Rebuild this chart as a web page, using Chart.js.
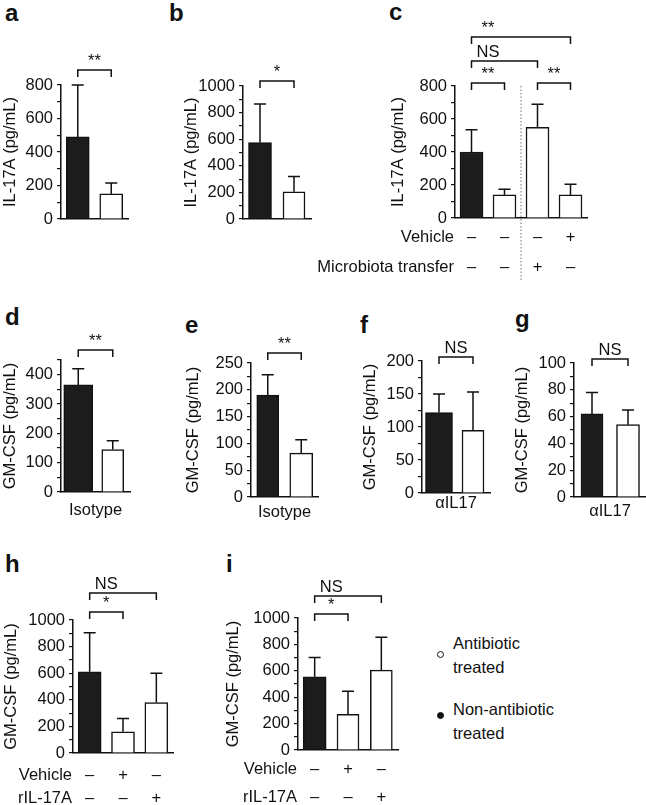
<!DOCTYPE html>
<html>
<head>
<meta charset="utf-8">
<script src="https://cdn.jsdelivr.net/npm/chart.js@4.4.1/dist/chart.umd.min.js"></script>
<style>
    body {
        margin: 0;
        width: 646px;
        height: 805px;
        position: relative;
        overflow: hidden;
        background: #fff;
        font-family: "Liberation Sans", Arial, sans-serif;
        color: #111;
    }
    canvas { position: absolute; }
    .letter {
        position: absolute;
        font-size: 24px;
        font-weight: bold;
        line-height: 1;
    }
    .legend-text {
        position: absolute;
        left: 453px;
        font-size: 16.5px;
        line-height: 24px;
    }
    .dot {
        position: absolute;
        width: 5px;
        height: 5px;
        border: 1.5px solid #111;
        border-radius: 50%;
    }
</style>
</head>
<body>
<div class="letter" style="left:5px;top:1px">a</div>
<div class="letter" style="left:169px;top:1px">b</div>
<div class="letter" style="left:389px;top:0px">c</div>
<div class="letter" style="left:5px;top:305px">d</div>
<div class="letter" style="left:185px;top:313px">e</div>
<div class="letter" style="left:360px;top:313px">f</div>
<div class="letter" style="left:515px;top:307px">g</div>
<div class="letter" style="left:5px;top:552px">h</div>
<div class="letter" style="left:226px;top:552px">i</div>

<div class="dot" style="left:437px;top:651px;background:#fff"></div>
<div class="legend-text" style="top:631px">Antibiotic<br>treated</div>
<div class="dot" style="left:437px;top:712px;background:#111"></div>
<div class="legend-text" style="top:697px">Non-antibiotic<br>treated</div>

<script>
const NON = 'Non-antibiotic treated';
const ABX = 'Antibiotic treated';

// a, b: IL-17A
const aGroups = [NON, ABX];
const aMeans = [490, 150];
const aErrors = [310, 65];
const aTicks = [0, 200, 400, 600, 800];
const aSig = [[0, 1, '**']];

const bGroups = [NON, ABX];
const bMeans = [575, 205];
const bErrors = [290, 115];
const bTicks = [0, 200, 400, 600, 800, 1000];
const bSig = [[0, 1, '*']];

// c: IL-17A with microbiota transfer
const cGroups = [NON, ABX, ABX, ABX];
const cMeans = [400, 140, 550, 140];
const cErrors = [135, 35, 140, 65];
const cTicks = [0, 200, 400, 600, 800];
const cVehicle = ['–', '–', '–', '+'];
const cTransfer = ['–', '–', '+', '–'];
const cSig = [[0, 1, '**'], [2, 3, '**'], [0, 2, 'NS'], [0, 3, '**']];

// d-g: GM-CSF
const dGroups = [NON, ABX];
const dMeans = [365, 145];
const dErrors = [55, 30];
const dTicks = [0, 100, 200, 300, 400];
const dSig = [[0, 1, '**']];

const eGroups = [NON, ABX];
const eMeans = [190, 82];
const eErrors = [38, 25];
const eTicks = [0, 50, 100, 150, 200, 250];
const eSig = [[0, 1, '**']];

const fGroups = [NON, ABX];
const fMeans = [122, 95];
const fErrors = [28, 58];
const fTicks = [0, 50, 100, 150, 200];
const fSig = [[0, 1, 'NS']];

const gGroups = [NON, ABX];
const gMeans = [62, 54];
const gErrors = [16, 11];
const gTicks = [0, 20, 40, 60, 80, 100];
const gSig = [[0, 1, 'NS']];

// h, i: GM-CSF with rIL-17A
const hGroups = [NON, ABX, ABX];
const hMeans = [610, 160, 380];
const hErrors = [295, 100, 220];
const hTicks = [0, 200, 400, 600, 800, 1000];
const hSig = [[0, 1, '*'], [0, 2, 'NS']];

const iGroups = [NON, ABX, ABX];
const iMeans = [555, 270, 605];
const iErrors = [145, 175, 250];
const iTicks = [0, 200, 400, 600, 800, 1000];
const iSig = [[0, 1, '*'], [0, 2, 'NS']];

const hiVehicle = ['–', '+', '–'];
const hiRil17a = ['–', '–', '+'];

const IL17 = 'IL-17A (pg/mL)';
const GMCSF = 'GM-CSF (pg/mL)';

// layout: box = canvas [left, top, width, height]; axis = [x, top, right, bottom] on the page
const panels = [
    { groups: aGroups, means: aMeans, errors: aErrors, ticks: aTicks, max: 800, minor: 100, sig: aSig, yTitle: IL17,
      box: [0, 30, 140, 210], titleX: 10, axis: [61, 85, 128, 219], bars: [23, 23], rises: [15] },
    { groups: bGroups, means: bMeans, errors: bErrors, ticks: bTicks, max: 1000, minor: 100, sig: bSig, yTitle: IL17,
      box: [181, 30, 140, 210], titleX: 191, axis: [243, 86, 311, 219], bars: [23, 22], rises: [5] },
    { groups: cGroups, means: cMeans, errors: cErrors, ticks: cTicks, max: 800, minor: 100, sig: cSig, yTitle: IL17,
      box: [290, 0, 320, 290], titleX: 398, axis: [455, 86, 587, 218], bars: [23, 23], rises: [3, 3, 25, 49],
      rows: [['Vehicle', cVehicle, 19], ['Microbiota transfer', cTransfer, 49]], divider: 64 },
    { groups: dGroups, means: dMeans, errors: dErrors, ticks: dTicks, max: 450, minor: 50, sig: dSig, yTitle: GMCSF,
      box: [0, 300, 140, 230], titleX: 10, axis: [61, 360, 130, 492], bars: [29, 22], rises: [10], xTitle: ['Isotype', 18] },
    { groups: eGroups, means: eMeans, errors: eErrors, ticks: eTicks, max: 250, minor: 25, sig: eSig, yTitle: GMCSF,
      box: [181, 300, 140, 230], titleX: 193, axis: [251, 363, 318, 497], bars: [22, 23], rises: [10], xTitle: ['Isotype', 15] },
    { groups: fGroups, means: fMeans, errors: fErrors, ticks: fTicks, max: 200, minor: 25, sig: fSig, yTitle: GMCSF,
      box: [355, 300, 145, 230], titleX: 370, axis: [422, 361, 490, 493], bars: [27, 22], rises: [4], xTitle: ['αIL17', 10] },
    { groups: gGroups, means: gMeans, errors: gErrors, ticks: gTicks, max: 100, minor: 10, sig: gSig, yTitle: GMCSF,
      box: [505, 300, 141, 230], titleX: 522, axis: [574, 363, 646, 497], bars: [22, 23], rises: [4], xTitle: ['αIL17', 14] },
    { groups: hGroups, means: hMeans, errors: hErrors, ticks: hTicks, max: 1000, minor: 100, sig: hSig, yTitle: GMCSF,
      box: [0, 560, 190, 245], titleX: 11, axis: [73, 620, 173, 753], bars: [23, 23], rises: [8, 27],
      rows: [['Vehicle', hiVehicle, 22], ['rIL-17A', hiRil17a, 45]] },
    { groups: iGroups, means: iMeans, errors: iErrors, ticks: iTicks, max: 1000, minor: 100, sig: iSig, yTitle: GMCSF,
      box: [200, 560, 210, 245], titleX: 233, axis: [298, 618, 398, 750], bars: [23, 22], rises: [4, 22],
      rows: [['Vehicle', hiVehicle, 19], ['rIL-17A', hiRil17a, 47]] }
];

const FONT_SIZE = 16.5;
const FONT = FONT_SIZE + 'px "Liberation Sans", Arial, sans-serif';
Chart.defaults.font.family = '"Liberation Sans", Arial, sans-serif';
Chart.defaults.font.size = FONT_SIZE;
Chart.defaults.color = '#111';

// error bars, significance brackets, condition rows
const panelExtras = {
    id: 'panelExtras',
    afterDatasetsDraw(chart) {
        const p = chart.canvas.panel;
        const { ctx, chartArea } = chart;
        const xs = chart.scales.x;
        const ys = chart.scales.y;
        ctx.save();
        ctx.strokeStyle = '#111';
        ctx.fillStyle = '#111';
        ctx.lineWidth = 1.5;

        p.means.forEach((m, i) => {
            const x = xs.getPixelForValue(i);
            const y0 = ys.getPixelForValue(m);
            const y1 = ys.getPixelForValue(m + p.errors[i]);
            ctx.beginPath();
            ctx.moveTo(x, y0);
            ctx.lineTo(x, y1);
            ctx.moveTo(x - 6, y1);
            ctx.lineTo(x + 6, y1);
            ctx.stroke();
        });

        ctx.font = FONT;
        ctx.textAlign = 'center';
        ctx.textBaseline = 'alphabetic';
        p.sig.forEach(([from, to, label], k) => {
            const y = chartArea.top - p.rises[k];
            const x1 = xs.getPixelForValue(from);
            const x2 = xs.getPixelForValue(to);
            ctx.beginPath();
            ctx.moveTo(x1, y + 7);
            ctx.lineTo(x1, y);
            ctx.lineTo(x2, y);
            ctx.lineTo(x2, y + 7);
            ctx.stroke();
            const lx = (x1 + xs.getPixelForValue(from + 1)) / 2;
            ctx.fillText(label, lx, y - 4);
        });

        ctx.textBaseline = 'middle';
        (p.rows || []).forEach(([label, signs, dy]) => {
            const y = chartArea.bottom + dy;
            ctx.textAlign = 'right';
            ctx.fillText(label, chartArea.left - 1, y);
            ctx.textAlign = 'center';
            signs.forEach((s, i) => ctx.fillText(s, xs.getPixelForValue(i), y));
        });

        if (p.xTitle) {
            ctx.textAlign = 'center';
            ctx.fillText(p.xTitle[0], (chartArea.left + chartArea.right) / 2, chartArea.bottom + p.xTitle[1]);
        }

        if (p.divider) {
            const x = xs.getPixelForValue(1.5);
            ctx.strokeStyle = '#888';
            ctx.lineWidth = 1.2;
            ctx.setLineDash([1.5, 2]);
            ctx.beginPath();
            ctx.moveTo(x, chartArea.top);
            ctx.lineTo(x, chartArea.bottom + p.divider);
            ctx.stroke();
        }
        ctx.restore();
    }
};

panels.forEach(p => {
    const [L, T, W, H] = p.box;
    const [ax, at, ar, ab] = p.axis;
    const left = p.titleX - FONT_SIZE * 0.6 - L;
    const yWidth = ax - L - left;

    const canvas = document.createElement('canvas');
    canvas.width = W;
    canvas.height = H;
    canvas.style.left = L + 'px';
    canvas.style.top = T + 'px';
    canvas.panel = p;
    document.body.appendChild(canvas);

    new Chart(canvas, {
        type: 'bar',
        data: {
            labels: p.groups.map((g, i) => String(i + 1)),
            datasets: [
                {
                    label: NON,
                    data: p.means.map((v, i) => p.groups[i] === NON ? v : null),
                    backgroundColor: '#1c1c1c',
                    barThickness: p.bars[0]
                },
                {
                    label: ABX,
                    data: p.means.map((v, i) => p.groups[i] === ABX ? v : null),
                    backgroundColor: '#ffffff',
                    barThickness: p.bars[1]
                }
            ]
        },
        options: {
            responsive: false,
            animation: false,
            devicePixelRatio: 1,
            layout: {
                padding: { left: left, top: at - T, right: W - (ar - L), bottom: H - (ab - T) }
            },
            datasets: {
                bar: { grouped: false, skipNull: true, borderColor: '#111', borderWidth: 1.5 }
            },
            plugins: {
                legend: { display: false },
                tooltip: { enabled: false }
            },
            scales: {
                x: {
                    afterFit: s => { s.height = 0; },
                    grid: { display: true, drawOnChartArea: false, drawTicks: false },
                    border: { display: true, color: '#111', width: 1.5 },
                    ticks: { display: false }
                },
                y: {
                    min: 0,
                    max: p.max,
                    afterFit: s => { s.width = yWidth; },
                    grid: { display: true, drawOnChartArea: false, drawTicks: true, tickLength: 4, color: '#111', lineWidth: 1.2 },
                    border: { display: true, color: '#111', width: 1.5 },
                    ticks: {
                        stepSize: p.minor,
                        autoSkip: false,
                        padding: 4,
                        callback: v => p.ticks.includes(v) ? String(v) : ''
                    },
                    title: { display: true, text: p.yTitle, padding: 0 }
                }
            }
        },
        plugins: [panelExtras]
    });
});
</script>
</body>
</html>
